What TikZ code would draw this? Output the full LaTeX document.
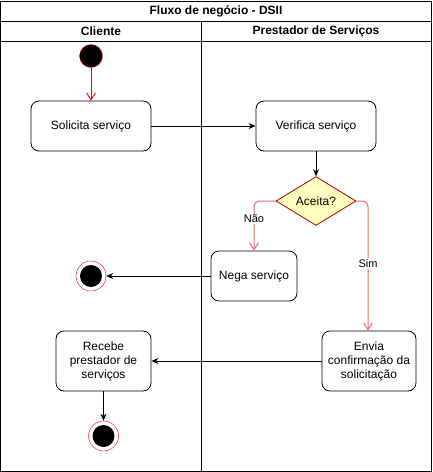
\documentclass[tikz,border=0pt]{standalone}
\usepackage{fontspec}
\setmainfont{Liberation Sans}
\usetikzlibrary{arrows.meta,shapes.geometric}

\definecolor{redline}{HTML}{EA6B66}
\definecolor{decfill}{HTML}{FFFFC0}
\definecolor{decline}{HTML}{B20000}

\tikzset{
  atividade/.style={draw, rounded corners=8pt, line width=0.8pt, align=center, font=\fontsize{12}{14}\selectfont, inner sep=0pt},
  inicio/.style={circle, draw=red, fill=black, minimum size=23pt, inner sep=0pt},
  fim/.style={circle, draw=red, fill=white, minimum size=30pt, inner sep=0pt,
    path picture={\fill[black] (path picture bounding box.center) circle (11pt);}},
  fluxo/.style={line width=0.9pt, -{Stealth[length=7pt,width=6pt]}},
  fluxovermelho/.style={draw=redline, line width=1pt, -{Straight Barb[length=7pt,width=9pt]}},
  rotulo/.style={fill=white, inner sep=1pt, font=\fontsize{11}{13}\selectfont}
}

\begin{document}
\begin{tikzpicture}[x=1pt,y=-1pt]
    \useasboundingbox (-1,-1) rectangle (431,471);
    \draw[line width=1pt] (0,0) rectangle (430,470);
    \draw[line width=1pt] (0,20) -- (430,20);
    \draw[line width=1pt] (0,40) -- (430,40);
    \draw[line width=1pt] (200,20) -- (200,470);
    \node[font=\bfseries\fontsize{12}{14}\selectfont] (titulo) at (215,10.5) {Fluxo de negócio - DSII};
    \node[font=\bfseries\fontsize{12}{14}\selectfont] (cliente) at (100,30.5) {Cliente};
    \node[font=\bfseries\fontsize{12}{14}\selectfont] (prestador) at (315,30.5) {Prestador de Serviços};

    \node[inicio] (ini) at (90,55) {};
    \node[atividade, minimum width=120pt, minimum height=50pt] (solicita) at (90,125) {Solicita serviço};
    \node[atividade, minimum width=120pt, minimum height=50pt] (verifica) at (315,125) {Verifica serviço};
    \node[diamond, draw=decline, fill=decfill, line width=0.8pt, minimum width=80pt, minimum height=40pt, inner sep=0pt, font=\fontsize{12}{14}\selectfont] (aceita) at (315,200) {Aceita?};
    \node[atividade, minimum width=86pt, minimum height=50pt] (nega) at (253,275) {Nega serviço};
    \node[atividade, minimum width=94pt, minimum height=60pt] (envia) at (368,360) {Envia\\confirmação da\\solicitação};
    \node[atividade, minimum width=95pt, minimum height=60pt] (recebe) at (102.5,360) {Recebe\\prestador de\\serviços};
    \node[fim] (fim1) at (90,275) {};
    \node[fim] (fim2) at (102.5,435) {};

    \draw[draw=red, line width=0.9pt, -{Straight Barb[length=7pt,width=9pt]}] (ini) -- (solicita);
    \draw[fluxo] (solicita) -- (verifica);
    \draw[fluxo] (verifica) -- (aceita);
    \draw[fluxovermelho, rounded corners=6pt] (aceita.west) -| node[rotulo, pos=0.68] {Não} (nega.north);
    \draw[fluxovermelho, rounded corners=6pt] (aceita.east) -| node[rotulo, pos=0.74] {Sim} (envia.north -| 367,0);
    \draw[fluxo] (nega) -- (fim1);
    \draw[fluxo] (envia) -- (recebe);
    \draw[fluxo] (recebe) -- (fim2);
\end{tikzpicture}
\end{document}
